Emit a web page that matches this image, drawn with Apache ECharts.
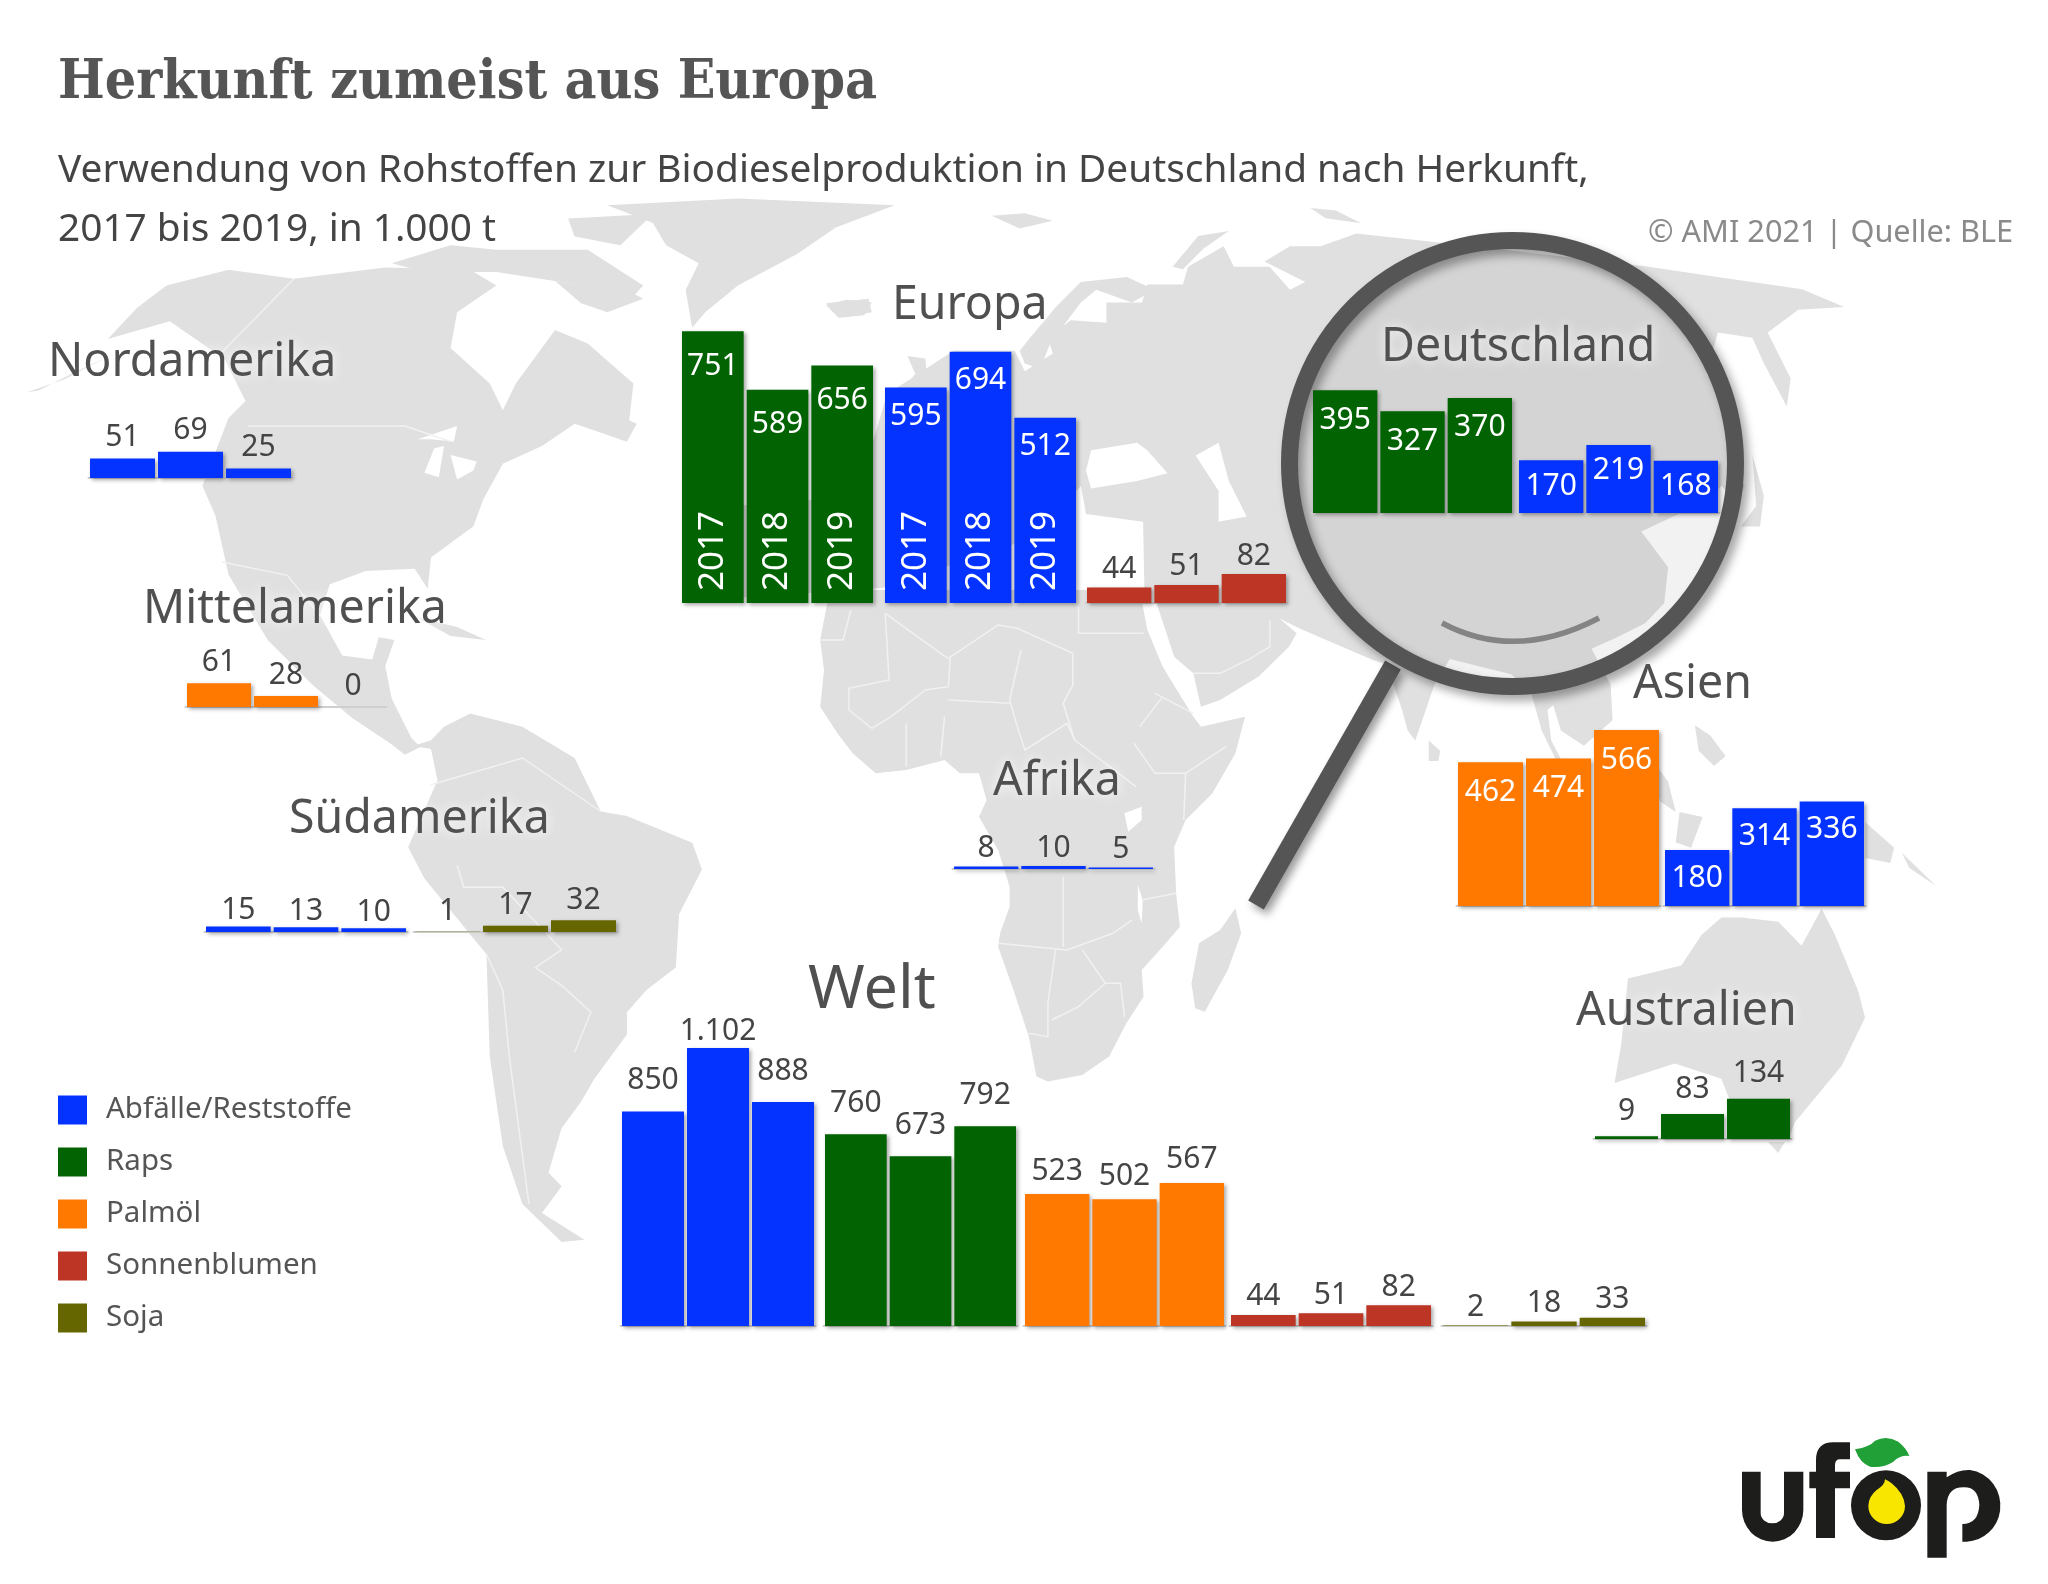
<!DOCTYPE html>
<html><head><meta charset="utf-8">
<style>html,body{margin:0;padding:0;background:#fff}#c{width:2048px;height:1584px}</style>
<script src="https://cdn.jsdelivr.net/npm/echarts@6/dist/echarts.min.js"></script>
</head><body><div id="c"></div>
<script>
// ---------- data ----------
const years = ['2017','2018','2019'];
const materials = ['Abfälle/Reststoffe','Raps','Palmöl','Sonnenblumen','Soja'];
const materialColors = ['#0433ff','#016301','#ff7800','#bc3525','#666600'];
const nordamerikaAbfall = [51,69,25];
const mittelamerikaPalm = [61,28,0];
const suedamerikaAbfall = [15,13,10];
const suedamerikaSoja = [1,17,32];
const europaRaps = [751,589,656];
const europaAbfall = [595,694,512];
const europaSonne = [44,51,82];
const afrikaAbfall = [8,10,5];
const deutschlandRaps = [395,327,370];
const deutschlandAbfall = [170,219,168];
const asienPalm = [462,474,566];
const asienAbfall = [180,314,336];
const australienRaps = [9,83,134];
const weltAbfall = [850,1102,888];
const weltRaps = [760,673,792];
const weltPalm = [523,502,567];
const weltSonne = [44,51,82];
const weltSoja = [2,18,33];

// ---------- layout: [values, material index, left, right, baseline, px per unit, label mode, label distance, show years]
const layout = [
  [nordamerikaAbfall,0,90,291,478,.38,'top',6],
  [mittelamerikaPalm,2,187,385,707,.39,'top',6],
  [suedamerikaAbfall,0,206,406,932,.37,'top',1],
  [suedamerikaSoja,4,415,616,932,.37,'top',5],
  [europaRaps,1,682,873,603,.362,'in',20,true],
  [europaAbfall,0,885,1076,603,.362,'in',14,true],
  [europaSonne,3,1087,1286,603,.354,'top',3],
  [afrikaAbfall,0,954,1153,869,.3,'top',3],
  [deutschlandRaps,1,1313,1512,513,.311,'in',15],
  [deutschlandAbfall,0,1519,1718,513,.311,'in',11],
  [asienPalm,2,1458,1659,906,.311,'in',15],
  [asienAbfall,0,1665,1864,906,.311,'in',13],
  [australienRaps,1,1595,1790,1139,.3,'top',10],
  [weltAbfall,0,622,814,1326,.2523,'top',16],
  [weltRaps,1,825,1016,1326,.2523,'top',16],
  [weltPalm,2,1025,1224,1326,.2523,'top',8],
  [weltSonne,3,1231,1431,1326,.2523,'top',3],
  [weltSoja,4,1443,1645,1326,.2523,'top',3]
];
const regionTitles = [
  ['Nordamerika',48,376,46.5],['Europa',892,319,46.5],['Mittelamerika',143,623,46.5],['Südamerika',289,833,46.5],
  ['Afrika',993,795,46.5],['Welt',808,1009,61],['Deutschland',1381,361,46.5],['Asien',1633,698,46.5],['Australien',1576,1025,46.5]
];

// ---------- decorative world map outline ----------
const Z={z1:[0,0,.653,.446],z2:[1024,150,.653,.51],z3:[0,700,.653,.446],z4:[1000,900,.668,.436],z6:[780,180,.51,.51],z7:[1400,200,.383,.51],z8:[780,600,.3827,.3333],d:[0,0,1.306,1.306]};
function pts(){const out=[];for(const s of arguments){const z=Z[s[0]],a=s[1];for(let i=0;i<a.length;i+=2)out.push([z[0]+a[i]*z[2],z[1]+a[i+1]*z[3]]);}return out;}
const land=[
 // North + Central America
 pts(['z1',[165,760,210,690,255,640,350,605,450,625,590,600,720,605,760,640,700,700,690,780,750,860,770,920,790,860,850,740,900,770,970,860,960,990,880,950,830,1000,770,1040,740,1120,725,1180,660,1250,655,1320,635,1275,560,1280,505,1310,490,1380]],['d',[250,480,262,502,285,505,290,488,302,490,295,510,300,535,315,565,322,572,310,578,300,570,270,550,240,525,205,490,175,440,165,395,155,372,175,320,188,307,172,275,130,246]]),
 pts(['z1',[40,880,100,850,165,800,120,830,60,875]]),
 // Arctic islands
 pts(['z1',[600,590,690,550,760,560,900,560,985,640,960,680,900,640,850,630,760,610,650,610]]),
 pts(['z1',[850,630,960,650,985,670,930,700,890,680]]),
 pts(['z1',[870,490,1000,480,950,550,880,530]]),
 pts(['z1',[1265,680,1330,670,1335,700,1290,712]]),
 // Newfoundland, Cuba
 pts(['z1',[930,920,975,950,960,990,930,975]]),
 pts(['d',[320,473,350,480,372,490,345,487]]),
 // Greenland
 pts(['z1',[930,460,1130,445,1370,460,1280,510,1220,570,1130,640,1080,700,1060,735,1050,650,1070,590,1020,550,1000,500]]),
 // South America
 pts(['z3',[560,0,600,60,640,100,660,90,680,60,720,30,800,60,880,130,920,250,960,260,1060,320,1075,380,1040,480,1035,600,990,650,960,700,960,750,910,850,890,900,860,960,840,1060,860,1090,830,1150,895,1210,860,1215,800,1130,770,1000,750,800,745,570,650,400,625,330,670,180,660,110,620,100,580,60,530,0]]),
 // Africa
 pts(['z8',[130,-30,105,120,115,210,108,290,105,320,150,400,190,460,250,520,330,510,430,480,470,520,520,520,540,600,520,650,570,750,600,860,600,920,575,1000,570,1040,610,1170,650,1310,670,1430,700,1445,790,1425,860,1370,905,1270,950,1190,945,1110,1000,1040,1045,980,1035,880,1030,740,1060,660,1130,580,1190,460,1215,350,1100,380,1080,350,1000,200,960,90,940,-30]]),
 // Arabia
 pts(['z8',[970,-40,1030,170,1080,220,1100,320,1150,300,1250,230,1330,140,1350,100,1300,50,1280,20,1240,-20,1180,-60]]),
 // Madagascar
 pts(['z8',[1190,925,1205,1000,1170,1110,1110,1235,1085,1225,1075,1150,1095,1030,1150,990]]),
 // Scandinavia, UK, Iceland
 pts(['z6',[470,335,490,310,540,250,590,200,680,190,735,215,690,240,620,215,590,240,560,280,530,320,510,370,480,360]]),
 pts(['z6',[250,345,285,350,290,410,240,415,265,380]]),
 pts(['z6',[90,245,130,235,180,240,165,265,115,270]]),
 // Novaya Zemlya-like islands
 pts(['z6',[770,170,820,110,880,100,830,135,790,175]]),
 pts(['z6',[415,70,480,65,535,80,470,95]]),
 pts(['z6',[1040,55,1090,60,1140,85,1070,75]]),
 // Eurasia
 pts(['z6',[-100,820,-100,640,150,620,210,420,340,335,460,335,480,375,535,340,525,310,570,275,640,280,640,240,710,240,720,205,790,205,800,170,870,130,890,170,960,170,1000,215,1030,200,950,160,1000,130,1060,130,1130,105]],
     ['z7',[60,80,300,100,640,130,820,150,1050,175,1160,210,1040,215,960,260,1020,350,1010,405,950,320,920,270,830,260,800,340,860,420,880,480,860,520,900,560,880,600,840,560,800,590,630,650,700,720,690,790,640,830,560,860,500,880,550,950,555,1020,480,1070,420,1040,400,990,385,1000,395,1060,440,1125,415,1110,370,1040,340,960,290,930,130,900,90,950,40,1060,20,1040]],
     ['z6',[1220,1040,1190,950,1160,940,1020,880,960,850,870,810,850,830,715,830,712,670,600,655,590,600,500,700,200,800]]),
 // Japan, Philippines, Sri Lanka, Indonesia, New Guinea
 pts(['z7',[920,500,950,580,940,640,890,640,930,600]]),
 pts(['z7',[770,1030,810,1050,850,1090,820,1110,780,1080]]),
 pts(['z7',[75,1060,105,1080,100,1100,75,1100]]),
 pts(['z7',[640,1080,700,1140,720,1200,680,1180]]),
 pts(['z7',[730,1200,790,1210,760,1270,720,1260]]),
 pts(['z7',[1215,1220,1290,1270,1280,1300,1215,1290]]),
 pts(['z7',[1310,1280,1400,1345,1330,1310]]),
 // Australia, Tasmania
 pts(['z4',[1080,40,1110,40,1165,50,1200,105,1230,20,1250,80,1285,210,1295,270,1260,380,1190,510,1180,550,1110,530,1080,410,1010,375,920,420,930,330,940,180,1020,150,1050,80]]),
 pts(['z4',[1150,555,1175,555,1165,580]])
];
const seas=[
 pts(['z6',[610,530,700,515,720,530,760,575,700,590,610,605,600,570]]),
 pts(['z6',[815,540,860,515,880,590,915,660,860,670,860,610]]),
 pts(['z1',[640,985,700,955,695,990,660,985]]),
 pts(['z1',[650,1060,665,1005,680,1000,672,1070]]),
 pts(['z1',[690,1020,730,1035,725,1055,700,1075]]),
 pts(['z8',[900,640,945,620,945,660,910,695]]),
 pts(['z8',[935,855,948,900,945,970,935,930]])
];
const borders=[
 pts(['z8',[105,120,165,120,185,30]]),pts(['z8',[275,40,285,240,180,265,180,330,240,385]]),
 pts(['z8',[275,40,420,160,440,175,570,75,620,85,765,160,765,255,740,310,770,420,930,560]]),
 pts(['z8',[445,175,440,260,380,270,290,350,240,385]]),pts(['z8',[630,150,600,300,620,380,640,450,750,370,770,420]]),
 pts(['z8',[780,20,780,100,950,100]]),pts(['z8',[980,280,1080,340]]),pts(['z8',[940,380,1000,290]]),
 pts(['z8',[925,430,980,520,1060,520,1165,440]]),pts(['z8',[1060,520,1055,660]]),pts(['z8',[570,1030,750,1050,870,1000,920,960]]),
 pts(['z8',[720,1050,700,1210,700,1310,650,1300]]),pts(['z8',[790,1050,850,1150,890,1150,900,1250]]),pts(['z8',[850,1150,780,1220,710,1260]]),
 pts(['z8',[740,830,740,1040]]),pts(['z8',[945,900,1035,880]]),pts(['z8',[330,370,330,500]]),pts(['z8',[440,300,600,310]]),pts(['z8',[430,350,420,470]]),
 pts(['z8',[1080,220,1150,220,1230,175,1280,140,1280,60]]),
 pts(['z3',[700,370,710,420,770,420,860,560,820,600,860,640,905,700,880,790]]),pts(['z3',[745,570,770,650,780,800,810,1130]]),pts(['z3',[660,190,800,130,920,250]]),
 pts(['z1',[380,955,620,955,690,990]]),pts(['z1',[340,790,450,625]]),pts(['z1',[340,1260,440,1290,490,1380]])
];

// ---------- graphics ----------
const els=[];
land.forEach(p=>els.push({type:'polygon',shape:{points:p},style:{fill:'#e0e0e0'},silent:true}));
seas.forEach(p=>els.push({type:'polygon',shape:{points:p},style:{fill:'#fff'},silent:true}));
borders.forEach(p=>els.push({type:'polyline',shape:{points:p},style:{fill:'none',stroke:'#f1f1f1',lineWidth:1.5},silent:true}));
// magnifier
els.push({type:'line',shape:{x1:1393,y1:665,x2:1256,y2:905},style:{stroke:'#555',lineWidth:18,shadowColor:'rgba(0,0,0,.4)',shadowBlur:8,shadowOffsetX:4,shadowOffsetY:5},silent:true});
els.push({type:'circle',shape:{cx:1512.5,cy:463.5,r:223},style:{fill:'rgba(0,0,0,.05)'},silent:true});
els.push({type:'circle',shape:{cx:1512.5,cy:463.5,r:223},style:{fill:'none',stroke:'#555',lineWidth:17,shadowColor:'rgba(0,0,0,.35)',shadowBlur:10,shadowOffsetX:5,shadowOffsetY:6},silent:true});
els.push({type:'bezierCurve',shape:{x1:1442,y1:623,x2:1599,y2:618,cpx1:1515,cpy1:662},style:{fill:'none',stroke:'#848484',lineWidth:5.5},silent:true});

// ---------- option ----------
const font='"Noto Sans"';
const fmt=v=>Number(v).toLocaleString('de-DE');
const grids=[],xAxes=[],yAxes=[],series=[];
layout.forEach((g,i)=>{
  const [vals,m,L,R,base,k,mode,dist,showYears]=g;
  const maxV=Math.max(...vals), h=maxV*k, W=R-L+3;
  grids.push({left:L-1.5,top:base-h,width:W,height:h});
  xAxes.push({type:'category',gridIndex:i,data:years,z:showYears?5:0,
    axisTick:{show:false},
    axisLine:{show:!showYears,lineStyle:{color:'#cfcfcf',width:2}},
    axisLabel:showYears?{show:true,inside:true,rotate:90,align:'left',verticalAlign:'middle',margin:12,color:'#fff',fontFamily:font,fontSize:35}:{show:false}});
  yAxes.push({type:'value',gridIndex:i,min:0,max:maxV||1,show:false});
  series.push({type:'bar',name:materials[m],xAxisIndex:i,yAxisIndex:i,barWidth:W/3-3,animation:false,silent:true,
    itemStyle:{color:materialColors[m],shadowColor:'rgba(0,0,0,.35)',shadowBlur:4,shadowOffsetX:2,shadowOffsetY:2},
    data:vals.map(v=>v>1000?{value:v,label:{distance:2}}:v),
    label:{show:true,position:mode==='in'?'insideTop':'top',distance:dist,formatter:p=>fmt(p.value),
      fontFamily:font,fontSize:30,color:mode==='in'?'#fff':'#444'}});
});
const titles=[
 {text:'Herkunft zumeist aus Europa',left:58,top:56,textStyle:{fontFamily:'"DejaVu Serif Condensed","DejaVu Serif"',fontWeight:'bold',fontSize:55,color:'#555'}},
 {text:'Verwendung von Rohstoffen zur Biodieselproduktion in Deutschland nach Herkunft,',left:58,top:151,textStyle:{fontFamily:font,fontWeight:'normal',fontSize:38.8,color:'#444'}},
 {text:'2017 bis 2019, in 1.000 t',left:58,top:210,textStyle:{fontFamily:font,fontWeight:'normal',fontSize:38.8,color:'#444'}},
 {text:'© AMI 2021 | Quelle: BLE',left:1648,top:218,textStyle:{fontFamily:font,fontWeight:'normal',fontSize:30.7,color:'#8a8a8a'}}
];
regionTitles.forEach(t=>titles.push({text:t[0],left:t[1],top:t[2]-t[3]*.8,textStyle:{fontFamily:font,fontWeight:'normal',fontSize:t[3],color:'#505050',textShadowColor:'#fff',textShadowBlur:12}}));

const chart=echarts.init(document.getElementById('c'),null,{renderer:'canvas'});
chart.setOption({
  backgroundColor:'#fff',animation:false,
  title:titles.map(t=>Object.assign({padding:0},t)),
  legend:{data:materials.map(n=>({name:n,icon:'rect',itemStyle:{shadowBlur:0,shadowOffsetX:0,shadowOffsetY:0}})),orient:'vertical',left:58,top:1095,itemWidth:29,itemHeight:29,itemGap:22,selectedMode:false,padding:0,
    textStyle:{fontFamily:font,fontSize:29.5,color:'#555',padding:[0,0,0,14]}},
  grid:grids,xAxis:xAxes,yAxis:yAxes,series:series,
  graphic:{elements:els}
});

// ufop logo, drawn on the chart's own canvas layer
const zr=chart.getZr();
const logo=(d,c)=>{const e=echarts.graphic.makePath(d,{x:1700,y:1400,scaleX:1/3,scaleY:1/3,silent:true,style:{fill:c}});zr.add(e);};
logo('M126 215 H182 V340 A35 30 0 0 0 252 340 V215 H310 V330 A92 95 0 0 1 126 330 Z','#1d1d1b');
logo('M348 414 V265 H328 V215 H348 V180 Q348 127 400 127 H450 V178 H420 Q405 178 405 195 V215 H450 V265 H405 V414 Z','#1d1d1b');
logo('M453 316 A105 105 0 1 1 663 316 A105 105 0 1 1 453 316 Z','#1d1d1b');
logo('M555 238 Q555 255 530 270 Q505 290 505 318 A55 54 0 0 0 615 318 Q612 280 575 250 Q565 243 555 238Z','#f9e600');
logo('M465 148 Q510 140 525 122 Q560 105 595 125 Q620 145 628 168 Q600 165 580 185 Q550 205 510 200 Q480 190 465 148Z','#22a038');
logo('M682 473 V215 H740 V232 Q775 208 810 210 A105 108 0 0 1 800 425 H787 V372 Q835 372 838 315 Q835 260 790 262 Q742 262 740 315 V473 Z','#1d1d1b');
</script></body></html>
